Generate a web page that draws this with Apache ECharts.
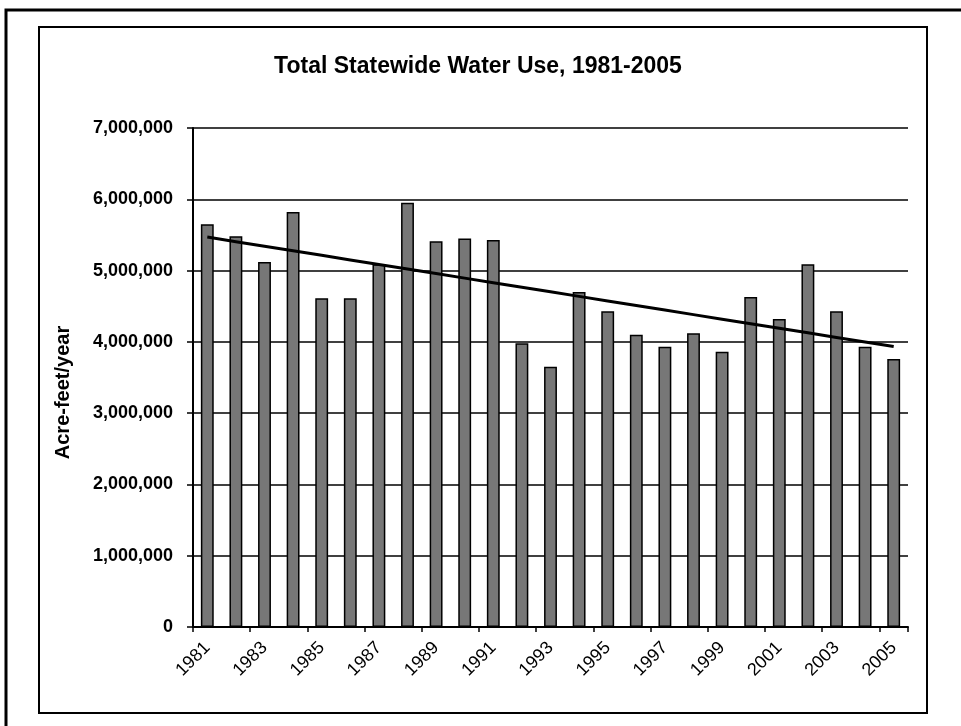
<!DOCTYPE html>
<html>
<head>
<meta charset="utf-8">
<script src="https://cdn.jsdelivr.net/npm/echarts@6/dist/echarts.min.js"></script>
<style>
html, body { margin: 0; padding: 0; background: #fff; }
#chart { width: 961px; height: 726px; }
</style>
</head>
<body>
<div id="chart"></div>
<script>
var years = ['1981','1982','1983','1984','1985','1986','1987','1988','1989','1990',
             '1991','1992','1993','1994','1995','1996','1997','1998','1999','2000',
             '2001','2002','2003','2004','2005'];
var waterUse = [5650000, 5480000, 5120000, 5820000, 4610000, 4610000, 5090000, 5950000, 5410000, 5450000,
                5430000, 3980000, 3650000, 4700000, 4430000, 4100000, 3930000, 4120000, 3860000, 4630000,
                4320000, 5090000, 4430000, 3930000, 3760000];

// linear trend (least squares), like the spreadsheet trendline
var n = waterUse.length, sx = 0, sy = 0, sxx = 0, sxy = 0;
for (var i = 0; i < n; i++) { sx += i; sy += waterUse[i]; sxx += i * i; sxy += i * waterUse[i]; }
var slope = (n * sxy - sx * sy) / (n * sxx - sx * sx);
var icept = (sy - slope * sx) / n;
var trend = waterUse.map(function (v, i) { return Math.round(icept + slope * i); });

var font = 'Liberation Sans, Arial, sans-serif';
var chart = echarts.init(document.getElementById('chart'));
chart.setOption({
  animation: false,
  backgroundColor: '#fff',
  graphic: [
    { type: 'rect', shape: { x: 6, y: 10, width: 970, height: 730 }, style: { fill: 'none', stroke: '#000', lineWidth: 3 } },
    { type: 'rect', shape: { x: 39, y: 27, width: 888, height: 686 }, style: { fill: 'none', stroke: '#000', lineWidth: 2 } }
  ],
  title: {
    text: 'Total Statewide Water Use, 1981-2005',
    left: 473, top: 50, textAlign: 'center',
    textStyle: { fontFamily: font, fontWeight: 'bold', fontSize: 23, color: '#000' }
  },
  grid: { left: 193, right: 53, top: 128, bottom: 99 },
  xAxis: {
    type: 'category',
    data: years,
    axisLine: { lineStyle: { color: '#000', width: 2 } },
    axisTick: { show: true, length: 5, lineStyle: { color: '#000', width: 1.5 } },
    axisLabel: { interval: 1, rotate: 45, margin: 18, fontFamily: font, fontSize: 18, color: '#000' }
  },
  yAxis: {
    type: 'value',
    min: 0, max: 7000000, interval: 1000000,
    name: 'Acre-feet/year',
    nameLocation: 'middle',
    nameGap: 120,
    nameTextStyle: { fontFamily: font, fontWeight: 'bold', fontSize: 20, color: '#000', padding: [0, 30, 0, 0] },
    axisLine: { show: true, lineStyle: { color: '#000', width: 2 } },
    axisTick: { show: true, length: 6, lineStyle: { color: '#000', width: 1.5 } },
    splitLine: { lineStyle: { color: '#000', width: 1.5 } },
    axisLabel: {
      margin: 20, fontFamily: font, fontWeight: 'bold', fontSize: 18, color: '#000',
      formatter: function (v) { return v.toLocaleString('en-US'); }
    }
  },
  series: [
    {
      name: 'Water use',
      type: 'bar',
      data: waterUse,
      barWidth: '45%',
      itemStyle: { color: '#777', borderColor: '#000', borderWidth: 1.5 }
    },
    {
      name: 'Trend',
      type: 'line',
      data: trend,
      symbol: 'none',
      z: 5,
      lineStyle: { color: '#000', width: 3 }
    }
  ]
});
</script>
</body>
</html>
